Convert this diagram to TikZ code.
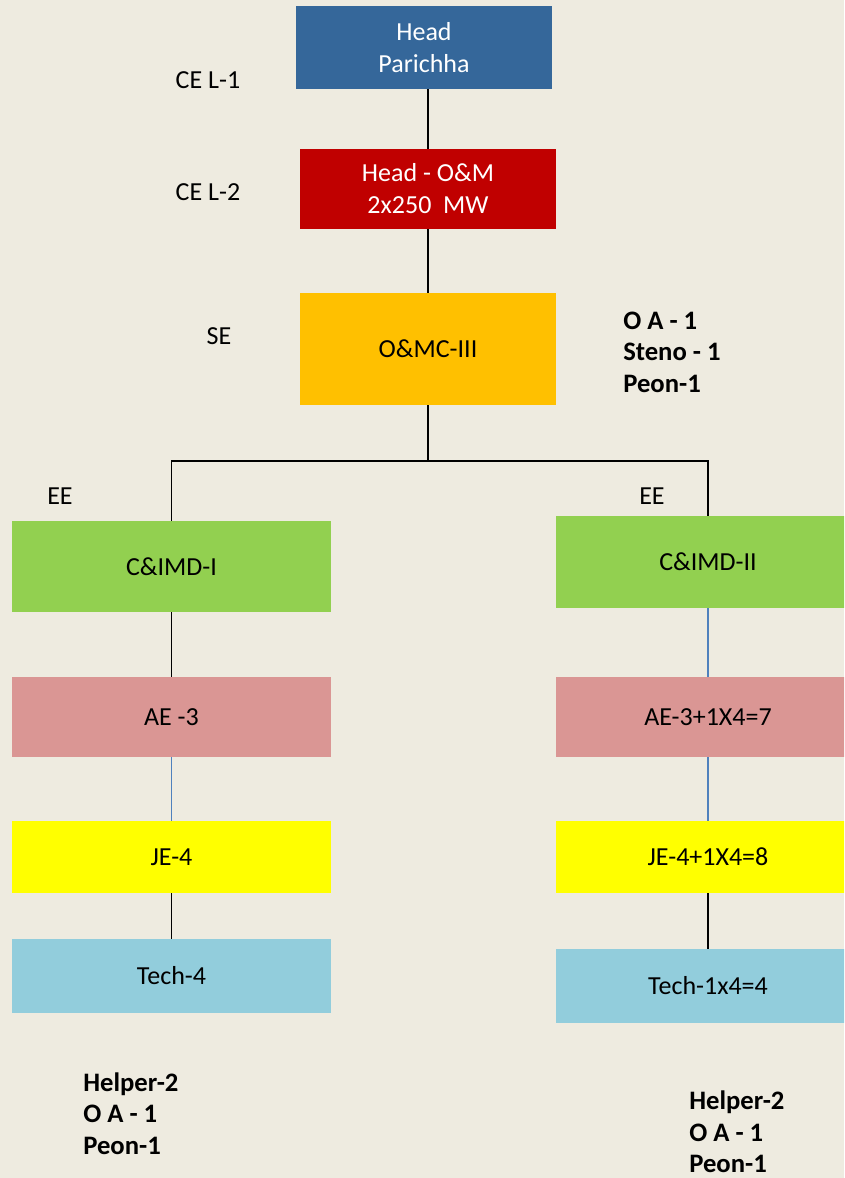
\documentclass[tikz,border=0pt]{standalone}
\usepackage{fontspec}
\setmainfont{Carlito}
\usetikzlibrary{positioning}
\definecolor{paper}{HTML}{EEEBE0}
\definecolor{headblue}{HTML}{35679A}
\definecolor{omred}{HTML}{C00000}
\definecolor{seorange}{HTML}{FFC000}
\definecolor{eegreen}{HTML}{92D050}
\definecolor{aepink}{HTML}{DA9694}
\definecolor{jeyellow}{HTML}{FFFF00}
\definecolor{techblue}{HTML}{92CDDC}
\definecolor{wire}{HTML}{4F81BD}

\begin{document}
\begin{tikzpicture}[x=0.75pt,y=-0.75pt,
  font=\fontsize{19.5}{24}\selectfont,
  box/.style={inner sep=2pt,align=center,minimum width=192pt},
  wide/.style={box,minimum width=239.25pt},
  wider/.style={box,minimum width=228pt},
  rank/.style={inner sep=0pt,font=\fontsize{19.5}{23}\selectfont},
  staff/.style={inner sep=0pt,align=left,anchor=north west,font=\fontsize{20}{23.6}\selectfont\bfseries},
  link/.style={draw=black,line width=1.1pt},
  bluelink/.style={draw=wire,line width=0.9pt}]
\fill[paper] (0,0) rectangle (844,1178);
\useasboundingbox (0,0) rectangle (844,1178);
\clip (0,0) rectangle (844,1178);
% top of the chain
\node[box,fill=headblue,text=white,minimum height=62.25pt] (hp) at (424,47.5) {Head\\Parichha};
\node[box,fill=omred,text=white,minimum height=60pt] (om) at (428,189) {Head - O\&M\\2x250~~MW};
\node[box,fill=seorange,minimum height=84pt] (oc) at (428,349) {O\&MC-III};
% left branch
\node[wide,fill=eegreen,minimum height=68.25pt] (cl) at (171.5,566.5) {C\&IMD-I};
\node[wide,fill=aepink,minimum height=60pt] (al) at (171.5,717) {AE -3};
\node[wide,fill=jeyellow,minimum height=54pt] (jl) at (171.5,857) {JE-4};
\node[wide,fill=techblue,minimum height=55.5pt] (tl) at (171.5,976) {Tech-4};
% right branch
\node[wider,fill=eegreen,minimum height=69pt] (cr) at (708,562) {C\&IMD-II};
\node[wider,fill=aepink,minimum height=60pt] (ar) at (708,717) {AE-3+1X4=7};
\node[wider,fill=jeyellow,minimum height=54pt] (jr) at (708,857) {JE-4+1X4=8};
\node[wider,fill=techblue,minimum height=55.5pt] (tr) at (708,986) {Tech-1x4=4};
% ranks
\node[rank] (r1) at (208,80) {CE L-1};
\node[rank] (r2) at (208,192) {CE L-2};
\node[rank] (r3) at (219,336) {SE};
\node[rank] (r4) at (60,496) {EE};
\node[rank] (r5) at (652,496) {EE};
% staff lists
\node[staff] (s1) at (623,311.5) {O A - 1\\Steno - 1\\Peon-1};
\node[staff] (s2) at (83,1072.5) {Helper-2\\O A - 1\\Peon-1};
\node[staff] (s3) at (689,1091) {Helper-2\\O A - 1\\Peon-1};
\coordinate (br) at (428,461);
\draw[link] (om.north |- hp.south) -- (om.north);
\draw[link] (om) -- (oc);
\draw[link] (oc) -- (br) -| (cl.north);
\draw[link] (br) -| (cr.north);
\draw[link] (cl) -- (al); \draw[bluelink] (al) -- (jl); \draw[link] (jl) -- (tl);
\draw[bluelink] (cr) -- (ar); \draw[bluelink] (ar) -- (jr); \draw[link] (jr) -- (tr);
\end{tikzpicture}
\end{document}
